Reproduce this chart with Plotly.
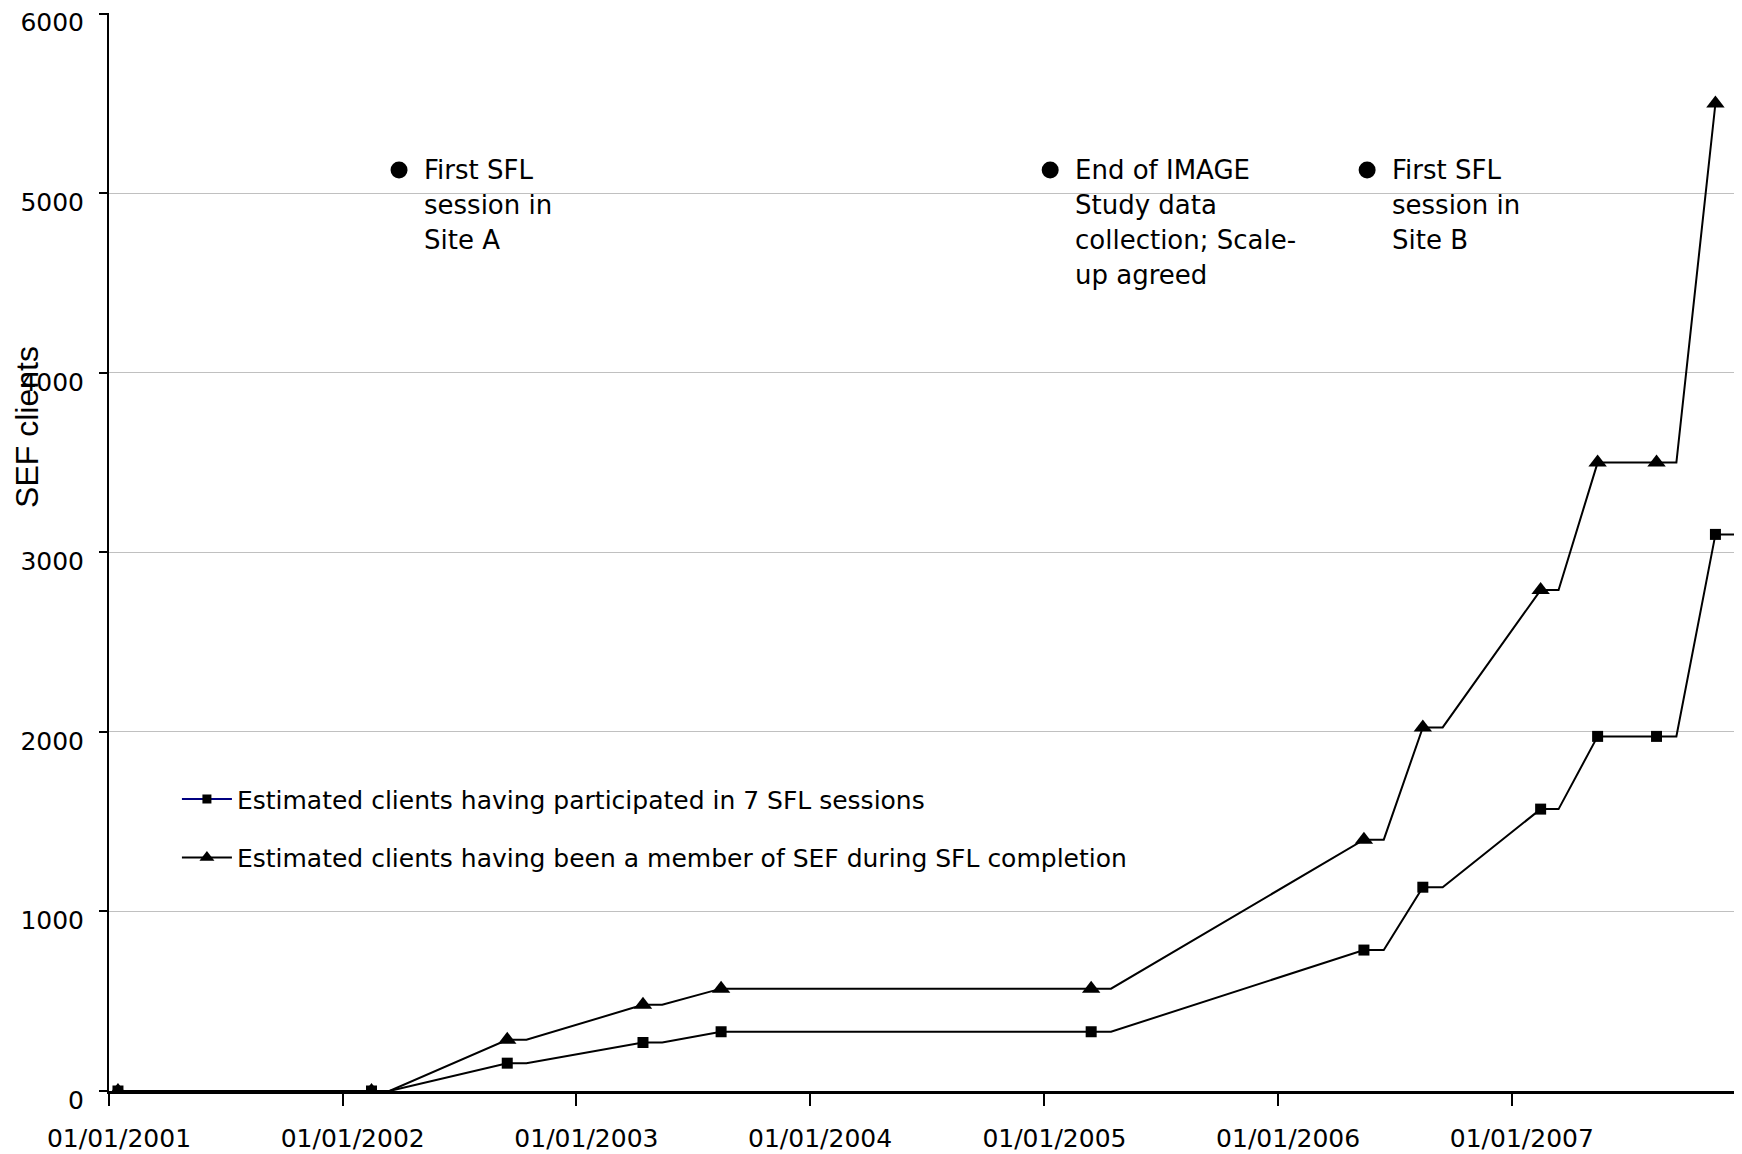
import plotly.graph_objects as go
import pandas as pd

# ---- data ----
event_dates = ["2001-01-15", "2002-02-15", "2002-09-15", "2003-04-15", "2003-08-15",
               "2005-03-15", "2006-05-15", "2006-08-15", "2007-02-15", "2007-05-15",
               "2007-08-15", "2007-11-15"]
participated = [0, 0, 155, 270, 330, 330, 785, 1135, 1570, 1975, 1975, 3100]
member = [0, 0, 285, 480, 570, 570, 1400, 2025, 2790, 3500, 3500, 5500]
series_names = ["Estimated clients having participated in 7 SFL sessions",
                "Estimated clients having been a member of SEF during SFL completion"]

milestone_dates = ["2002-03-30", "2005-01-10", "2006-05-20"]
milestone_level = [5130, 5130, 5130]
milestone_labels = ["First SFL<br>session in<br>Site A",
                    "End of IMAGE<br>Study data<br>collection; Scale-<br>up agreed",
                    "First SFL<br>session in<br>Site B"]

year_ticks = ["2001-01-01", "2002-01-01", "2003-01-01", "2004-01-01",
              "2005-01-01", "2006-01-01", "2007-01-01"]
year_tick_labels = ["01/01/2001", "01/01/2002", "01/01/2003", "01/01/2004",
                    "01/01/2005", "01/01/2006", "01/01/2007"]
y_ticks = [0, 1000, 2000, 3000, 4000, 5000, 6000]

FONT = "DejaVu Sans, Liberation Sans, Arial, sans-serif"
TITLE_FONT = "Liberation Sans, Arial, sans-serif"


def stepped(dates, values, last_tail=True):
    xs, ys = [], []
    n = len(dates)
    for i, (d, v) in enumerate(zip(dates, values)):
        t = pd.Timestamp(d)
        xs.append(t)
        ys.append(v)
        if i < n - 1 or last_tail:
            xs.append(t + pd.DateOffset(months=1))
            ys.append(v)
    return xs, ys


fig = go.Figure()

px_, py_ = stepped(event_dates, participated, last_tail=True)
mx_, my_ = stepped(event_dates, member, last_tail=False)

fig.add_trace(go.Scatter(x=mx_, y=my_, mode="lines", line=dict(color="black", width=2),
                         showlegend=False, hoverinfo="skip"))
fig.add_trace(go.Scatter(x=px_, y=py_, mode="lines", line=dict(color="black", width=2),
                         showlegend=False, hoverinfo="skip"))
fig.add_trace(go.Scatter(x=pd.to_datetime(event_dates), y=member, mode="markers",
                         marker=dict(symbol="triangle-up", size=16, color="black"),
                         showlegend=False))
fig.add_trace(go.Scatter(x=pd.to_datetime(event_dates), y=participated, mode="markers",
                         marker=dict(symbol="square", size=11, color="black"),
                         showlegend=False))

# legend-only entries
fig.add_trace(go.Scatter(x=[None], y=[None], mode="lines+markers", name=series_names[0],
                         line=dict(color="#000080", width=2),
                         marker=dict(symbol="square", size=9, color="black"),
                         legendgroup="g1"))
fig.add_trace(go.Scatter(x=[None], y=[None], mode="lines+markers", name=series_names[1],
                         line=dict(color="black", width=2),
                         marker=dict(symbol="triangle-up", size=13, color="black"),
                         legendgroup="g2"))

# milestones
fig.add_trace(go.Scatter(x=pd.to_datetime(milestone_dates), y=milestone_level, mode="markers",
                         marker=dict(symbol="circle", size=17, color="black"),
                         showlegend=False, hoverinfo="skip"))
LINE_STEP = 35
for d, lvl, txt in zip(milestone_dates, milestone_level, milestone_labels):
    for j, line in enumerate(txt.split("<br>")):
        fig.add_annotation(x=d, y=lvl, text=line, showarrow=False, xanchor="left",
                           yanchor="middle", align="left", xshift=23, yshift=-LINE_STEP * j,
                           font=dict(family=FONT, size=26, color="black"))

fig.add_annotation(xref="paper", yref="paper", x=-0.0505, y=0.616, text="SEF clients",
                   textangle=-90, showarrow=False, xanchor="center", yanchor="middle",
                   font=dict(family=TITLE_FONT, size=32, color="black"))

fig.update_layout(
    width=1726, height=1146,
    margin=dict(l=101, r=0, t=5, b=63, autoexpand=False),
    paper_bgcolor="white", plot_bgcolor="white",
    font=dict(family=FONT, size=25, color="black"),
    legend=dict(x=0.0418, y=0.292, xanchor="left", yanchor="top",
                bgcolor="rgba(0,0,0,0)", font=dict(family=FONT, size=25, color="black"),
                tracegroupgap=23, itemwidth=50),
    showlegend=True,
)

fig.update_xaxes(type="date", range=["2001-01-01", "2007-12-14"],
                 tickvals=year_ticks, ticktext=year_tick_labels,
                 showgrid=False, showline=True, linecolor="black", linewidth=3,
                 ticks="outside", ticklen=12, tickwidth=2, tickcolor="black",
                 tickfont=dict(family=FONT, size=25, color="black"),
                 ticklabelshift=10, ticklabelstandoff=11, zeroline=False,
                 automargin=False)
fig.update_yaxes(range=[0, 6004], tickvals=y_ticks,
                 showgrid=True, gridcolor="#c0c0c0", gridwidth=1,
                 showline=True, linecolor="black", linewidth=2,
                 ticks="outside", ticklen=8, tickwidth=2, tickcolor="black",
                 tickfont=dict(family=FONT, size=25, color="black"),
                 ticklabelshift=9, ticklabelstandoff=10, ticklabeloverflow="allow",
                 zeroline=False, automargin=False)

fig.write_html("out.html")
